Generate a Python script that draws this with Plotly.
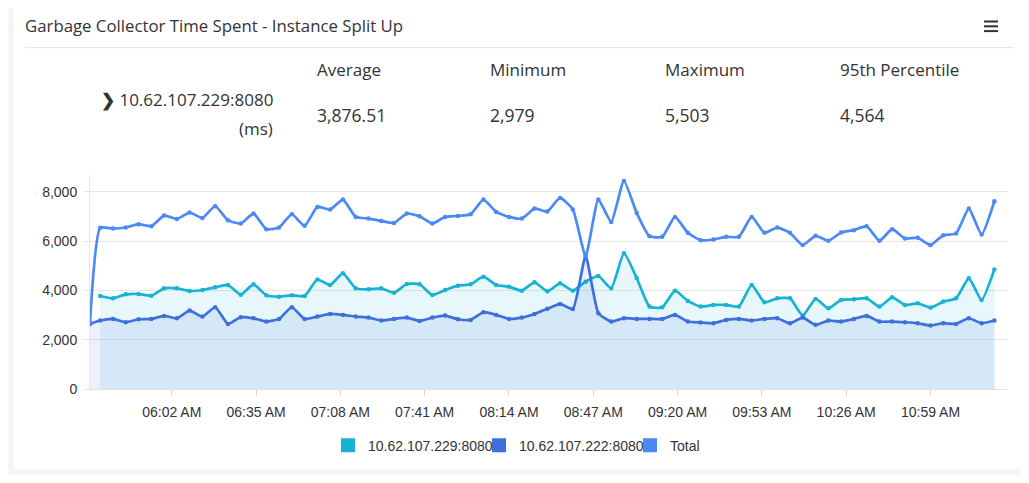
import pandas as pd
import plotly.graph_objects as go

# sample times: one early point, then every 5 minutes
times = ["2024-01-01 05:30"] + list(pd.date_range("2024-01-01 05:34", periods=71, freq="5min"))

# ms
inst_229 = [None,
            3772, 3677, 3839, 3852, 3785, 4081, 4081, 3974, 4014, 4122, 4216, 3825, 4243, 3799, 3745, 3799, 3772, 4440,
            4216, 4688, 4081, 4041, 4081, 3906, 4256, 4243, 3812, 4014, 4189, 4243, 4553, 4216, 4149, 3987, 4324, 3960,
            4283, 3987, 4351, 4580, 4081, 5503, 4500, 3341, 3314, 3987, 3570, 3341, 3408, 3408, 3341, 4216, 3516, 3677,
            3677, 2979, 3650, 3273, 3610, 3637, 3677, 3341, 3718, 3408, 3475, 3300, 3543, 3677, 4486, 3610, 4849]
inst_222 = [2640,
            2775, 2842, 2707, 2829, 2842, 2963, 2869, 3179, 2936, 3314, 2640, 2910, 2869, 2734, 2842, 3314, 2842, 2936,
            3044, 3004, 2936, 2896, 2775, 2842, 2896, 2761, 2896, 2977, 2829, 2802, 3112, 3004, 2842, 2896, 3044, 3250,
            3448, 3246, 5388, 3071, 2734, 2869, 2842, 2842, 2842, 3004, 2734, 2694, 2667, 2802, 2842, 2775, 2842, 2869,
            2667, 2896, 2600, 2775, 2734, 2842, 2963, 2734, 2734, 2707, 2667, 2573, 2667, 2640, 2869, 2667, 2775]
total = [2700,
         6533, 6506, 6546, 6681, 6600, 7031, 6897, 7153, 6937, 7409, 6843, 6708, 7112, 6479, 6546, 7085, 6614, 7382,
         7274, 7678, 6977, 6910, 6816, 6735, 7112, 7004, 6708, 6977, 7018, 7085, 7678, 7180, 6977, 6910, 7314, 7200,
         7745, 7274, 5388, 7678, 6775, 8432, 7139, 6196, 6169, 6977, 6331, 6035, 6062, 6169, 6169, 6977, 6331, 6546,
         6331, 5833, 6210, 6008, 6344, 6439, 6600, 6008, 6479, 6102, 6129, 5833, 6237, 6304, 7314, 6264, 7611]

series_names = ["10.62.107.229:8080", "10.62.107.222:8080", "Total"]
colors = ["#17b3d3", "#3e6fdb", "#4a89f6"]
fills = ["rgba(23,179,211,0.1)", "rgba(62,111,219,0.1)", None]

stat_labels = ["Average", "Minimum", "Maximum", "95th Percentile"]
stat_values = ["3,876.51", "2,979", "5,503", "4,564"]
instance = "10.62.107.229:8080"

# figure geometry (px)
W, H = 1013, 467
L, R, T, B = 82, 1000, 167, 381


def px(x):
    return (x - L) / (R - L)


def py(y):
    return (B - y) / (B - T)


fig = go.Figure()

for name, ys, col, fc in zip(series_names, [inst_229, inst_222, total], colors, fills):
    fig.add_trace(go.Scatter(
        x=times, y=ys, name=name, mode="lines+markers",
        line=dict(color=col, width=2.7, shape="spline", smoothing=0.5),
        marker=dict(color=col, size=4.5),
        fill="tozeroy" if fc else None, fillcolor=fc,
        showlegend=False, legendgroup=name,
    ))
    # square legend entry
    fig.add_trace(go.Scatter(
        x=[None], y=[None], name=name, mode="markers",
        marker=dict(color=col, size=14, symbol="square"),
        legendgroup=name, showlegend=True,
    ))

# card background with rounded corners
cx0, cx1, cy0, cy1, r = 6, 1017, -4, 461, 6
card = (f"M {px(cx0 + r)},{py(cy0)} L {px(cx1 - r)},{py(cy0)} Q {px(cx1)},{py(cy0)} {px(cx1)},{py(cy0 + r)} "
        f"L {px(cx1)},{py(cy1 - r)} Q {px(cx1)},{py(cy1)} {px(cx1 - r)},{py(cy1)} "
        f"L {px(cx0 + r)},{py(cy1)} Q {px(cx0)},{py(cy1)} {px(cx0)},{py(cy1 - r)} "
        f"L {px(cx0)},{py(cy0 + r)} Q {px(cx0)},{py(cy0)} {px(cx0 + r)},{py(cy0)} Z")
shapes = [dict(type="path", path=card, xref="paper", yref="paper",
               fillcolor="white", line=dict(width=0), layer="below")]
# separator under the title
shapes.append(dict(type="line", xref="paper", yref="paper", x0=px(17), x1=px(1006),
                   y0=py(39.7), y1=py(39.7), line=dict(color="#e4e4e4", width=1)))
# menu icon
for yy in [13.5, 18.3, 23.1]:
    shapes.append(dict(type="line", xref="paper", yref="paper", x0=px(976), x1=px(990),
                       y0=py(yy), y1=py(yy), line=dict(color="#333333", width=2)))

head_font = dict(family="Open Sans, Noto Sans, sans-serif", color="#333333")
annotations = [dict(text="Garbage Collector Time Spent - Instance Split Up", x=px(15), y=py(17.5),
                    xref="paper", yref="paper", xanchor="left", yanchor="middle", showarrow=False,
                    font=dict(size=16.8, **head_font))]
stat_x = [306.5, 480, 655, 830]
for sx, lab, val in zip(stat_x, stat_labels, stat_values):
    annotations.append(dict(text=lab, x=px(sx), y=py(62), xref="paper", yref="paper",
                            xanchor="left", yanchor="middle", showarrow=False,
                            font=dict(size=17, **head_font)))
    annotations.append(dict(text=val, x=px(sx), y=py(107), xref="paper", yref="paper",
                            xanchor="left", yanchor="middle", showarrow=False,
                            font=dict(size=17.5, **head_font)))
annotations.append(dict(text="<b>❯</b> " + instance, x=px(267), y=py(91.3), xref="paper", yref="paper",
                        xanchor="right", yanchor="middle", showarrow=False, font=dict(size=17, **head_font)))
annotations.append(dict(text="(ms)", x=px(267), y=py(120.5), xref="paper", yref="paper",
                        xanchor="right", yanchor="middle", showarrow=False, font=dict(size=17, **head_font)))

fig.update_layout(
    width=W, height=H,
    margin=dict(l=L, r=W - R, t=T, b=H - B),
    paper_bgcolor="#f5f5f5", plot_bgcolor="white",
    font=dict(family="Liberation Sans, Arial, sans-serif", size=14, color="#333333"),
    shapes=shapes, annotations=annotations,
    legend=dict(orientation="h", x=px(320), xanchor="left", y=py(437.7), yanchor="middle",
                font=dict(size=14), itemwidth=30, entrywidth=106, entrywidthmode="pixels",
                bgcolor="rgba(0,0,0,0)", tracegroupgap=0),
    hovermode="x unified",
)
fig.update_xaxes(
    type="date", range=["2024-01-01 05:30", "2024-01-01 11:29:20"],
    tick0="2024-01-01 06:02", dtick=33 * 60 * 1000, tickformat="%I:%M %p",
    showgrid=False, showline=True, linecolor="#e0e0e0", linewidth=1,
    ticks="outside", ticklen=6, tickcolor="#d8d8d8", ticklabelstandoff=4, zeroline=False,
)
fig.update_yaxes(
    range=[0, 8676], tickvals=[0, 2000, 4000, 6000, 8000], tickformat=",d",
    showgrid=True, gridcolor="#e6e6e6", zeroline=False,
    showline=True, linecolor="#e6e6e6", ticks="outside", ticklen=5, tickcolor="#e6e6e6",
    ticklabelstandoff=4,
)

fig.write_html("out.html")
